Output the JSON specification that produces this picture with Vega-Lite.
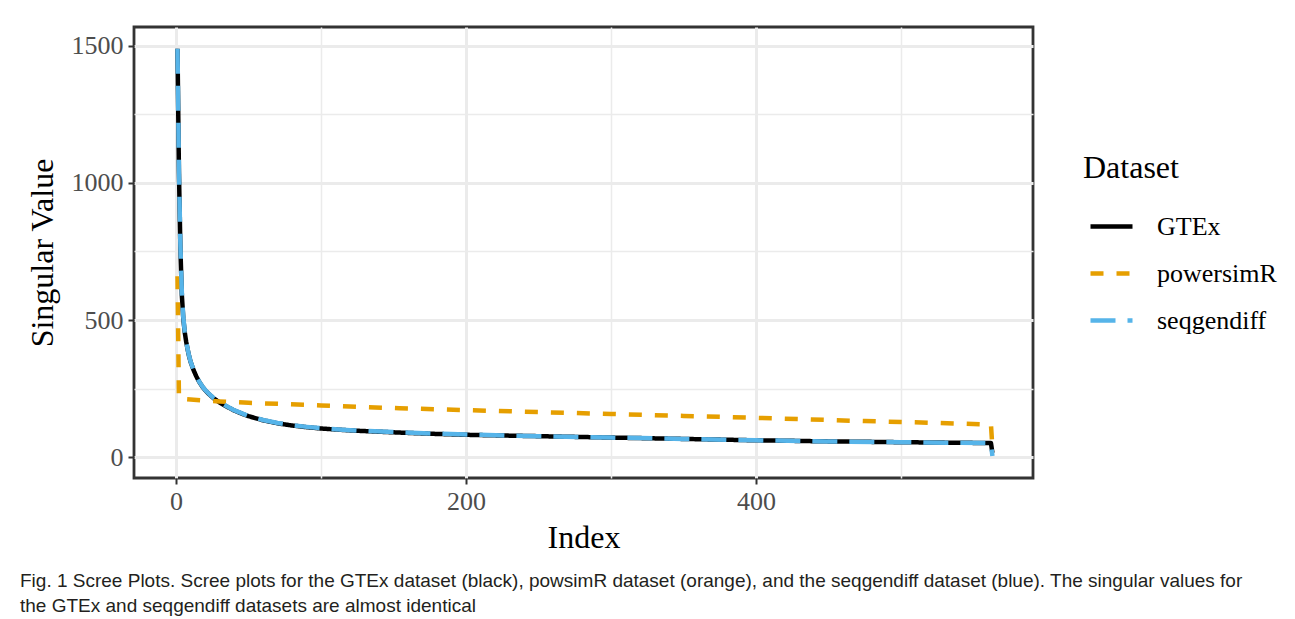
{
  "$schema": "https://vega.github.io/schema/vega-lite/v6.json",
  "autosize": {"type": "none"},
  "width": 899,
  "height": 451,
  "padding": {"left": 134, "top": 27, "right": 262, "bottom": 141},
  "background": "white",
  "title": {
    "text": ["Fig. 1 Scree Plots. Scree plots for the GTEx dataset (black), powsimR dataset (orange), and the seqgendiff dataset (blue). The singular values for", "the GTEx and seqgendiff datasets are almost identical"],
    "orient": "bottom",
    "anchor": "start",
    "frame": "bounds",
    "font": "Liberation Sans",
    "fontSize": 19,
    "fontWeight": "normal",
    "color": "#231f20",
    "lineHeight": 25,
    "offset": 19,
    "dx": -6
  },
  "data": {
    "values": [
      {"i": 1, "v": 1490, "s": "GTEx"},
      {"i": 2, "v": 1040, "s": "GTEx"},
      {"i": 3, "v": 760, "s": "GTEx"},
      {"i": 4, "v": 590, "s": "GTEx"},
      {"i": 5, "v": 505, "s": "GTEx"},
      {"i": 6, "v": 455, "s": "GTEx"},
      {"i": 7, "v": 420, "s": "GTEx"},
      {"i": 8, "v": 392, "s": "GTEx"},
      {"i": 9, "v": 368, "s": "GTEx"},
      {"i": 10, "v": 348, "s": "GTEx"},
      {"i": 12, "v": 318, "s": "GTEx"},
      {"i": 14, "v": 294, "s": "GTEx"},
      {"i": 16, "v": 274, "s": "GTEx"},
      {"i": 18, "v": 258, "s": "GTEx"},
      {"i": 20, "v": 244, "s": "GTEx"},
      {"i": 23, "v": 228, "s": "GTEx"},
      {"i": 26, "v": 214, "s": "GTEx"},
      {"i": 30, "v": 199, "s": "GTEx"},
      {"i": 35, "v": 184, "s": "GTEx"},
      {"i": 40, "v": 170, "s": "GTEx"},
      {"i": 45, "v": 159, "s": "GTEx"},
      {"i": 50, "v": 149, "s": "GTEx"},
      {"i": 60, "v": 134, "s": "GTEx"},
      {"i": 70, "v": 123, "s": "GTEx"},
      {"i": 80, "v": 115, "s": "GTEx"},
      {"i": 90, "v": 109, "s": "GTEx"},
      {"i": 100, "v": 104, "s": "GTEx"},
      {"i": 120, "v": 97, "s": "GTEx"},
      {"i": 150, "v": 90, "s": "GTEx"},
      {"i": 175, "v": 85, "s": "GTEx"},
      {"i": 200, "v": 81, "s": "GTEx"},
      {"i": 250, "v": 76, "s": "GTEx"},
      {"i": 300, "v": 71, "s": "GTEx"},
      {"i": 350, "v": 66, "s": "GTEx"},
      {"i": 400, "v": 61, "s": "GTEx"},
      {"i": 450, "v": 57, "s": "GTEx"},
      {"i": 500, "v": 54, "s": "GTEx"},
      {"i": 540, "v": 52, "s": "GTEx"},
      {"i": 562, "v": 51, "s": "GTEx"},
      {"i": 563, "v": 15, "s": "GTEx"},
      {"i": 1, "v": 660, "s": "powersimR"},
      {"i": 2, "v": 216, "s": "powersimR"},
      {"i": 5, "v": 212, "s": "powersimR"},
      {"i": 10, "v": 210, "s": "powersimR"},
      {"i": 20, "v": 206, "s": "powersimR"},
      {"i": 30, "v": 203, "s": "powersimR"},
      {"i": 50, "v": 198, "s": "powersimR"},
      {"i": 75, "v": 193, "s": "powersimR"},
      {"i": 100, "v": 188, "s": "powersimR"},
      {"i": 125, "v": 183, "s": "powersimR"},
      {"i": 154, "v": 178, "s": "powersimR"},
      {"i": 200, "v": 171, "s": "powersimR"},
      {"i": 250, "v": 164, "s": "powersimR"},
      {"i": 300, "v": 157, "s": "powersimR"},
      {"i": 350, "v": 150, "s": "powersimR"},
      {"i": 400, "v": 143, "s": "powersimR"},
      {"i": 432, "v": 138, "s": "powersimR"},
      {"i": 475, "v": 131, "s": "powersimR"},
      {"i": 500, "v": 128, "s": "powersimR"},
      {"i": 540, "v": 122, "s": "powersimR"},
      {"i": 562, "v": 118, "s": "powersimR"},
      {"i": 563, "v": 35, "s": "powersimR"},
      {"i": 1, "v": 1490, "s": "seqgendiff"},
      {"i": 2, "v": 1045, "s": "seqgendiff"},
      {"i": 3, "v": 770, "s": "seqgendiff"},
      {"i": 4, "v": 600, "s": "seqgendiff"},
      {"i": 5, "v": 510, "s": "seqgendiff"},
      {"i": 6, "v": 458, "s": "seqgendiff"},
      {"i": 7, "v": 422, "s": "seqgendiff"},
      {"i": 8, "v": 393, "s": "seqgendiff"},
      {"i": 9, "v": 369, "s": "seqgendiff"},
      {"i": 10, "v": 349, "s": "seqgendiff"},
      {"i": 12, "v": 319, "s": "seqgendiff"},
      {"i": 14, "v": 295, "s": "seqgendiff"},
      {"i": 16, "v": 275, "s": "seqgendiff"},
      {"i": 18, "v": 259, "s": "seqgendiff"},
      {"i": 20, "v": 245, "s": "seqgendiff"},
      {"i": 23, "v": 229, "s": "seqgendiff"},
      {"i": 26, "v": 215, "s": "seqgendiff"},
      {"i": 30, "v": 200, "s": "seqgendiff"},
      {"i": 35, "v": 185, "s": "seqgendiff"},
      {"i": 40, "v": 171, "s": "seqgendiff"},
      {"i": 45, "v": 160, "s": "seqgendiff"},
      {"i": 50, "v": 150, "s": "seqgendiff"},
      {"i": 60, "v": 135, "s": "seqgendiff"},
      {"i": 70, "v": 124, "s": "seqgendiff"},
      {"i": 80, "v": 116, "s": "seqgendiff"},
      {"i": 90, "v": 110, "s": "seqgendiff"},
      {"i": 100, "v": 105, "s": "seqgendiff"},
      {"i": 120, "v": 98, "s": "seqgendiff"},
      {"i": 150, "v": 91, "s": "seqgendiff"},
      {"i": 175, "v": 86, "s": "seqgendiff"},
      {"i": 200, "v": 82, "s": "seqgendiff"},
      {"i": 250, "v": 76, "s": "seqgendiff"},
      {"i": 300, "v": 71, "s": "seqgendiff"},
      {"i": 350, "v": 66, "s": "seqgendiff"},
      {"i": 400, "v": 61, "s": "seqgendiff"},
      {"i": 450, "v": 57, "s": "seqgendiff"},
      {"i": 500, "v": 54, "s": "seqgendiff"},
      {"i": 540, "v": 52, "s": "seqgendiff"},
      {"i": 562, "v": 51, "s": "seqgendiff"},
      {"i": 563, "v": 4, "s": "seqgendiff"}
    ]
  },
  "mark": {"type": "line", "strokeWidth": 4.5, "strokeCap": "butt", "strokeJoin": "round"},
  "encoding": {
    "x": {
      "field": "i",
      "type": "quantitative",
      "scale": {"domain": [-29, 591], "nice": false, "zero": false},
      "axis": {
        "values": [0, 100, 200, 300, 400, 500],
        "format": "d",
        "labelExpr": "datum.value % 200 === 0 ? datum.label : ''",
        "gridWidth": {"condition": {"test": "datum.value % 200 === 0", "value": 3}, "value": 1.5},
        "tickOpacity": {"condition": {"test": "datum.value % 200 === 0", "value": 1}, "value": 0},
        "title": "Index",
        "labelPadding": 4,
        "titlePadding": 8
      }
    },
    "y": {
      "field": "v",
      "type": "quantitative",
      "scale": {"domain": [-76.6, 1569.3], "nice": false, "zero": false},
      "axis": {
        "values": [0, 250, 500, 750, 1000, 1250, 1500],
        "format": "d",
        "labelExpr": "datum.value % 500 === 0 ? datum.label : ''",
        "gridWidth": {"condition": {"test": "datum.value % 500 === 0", "value": 3}, "value": 1.5},
        "tickOpacity": {"condition": {"test": "datum.value % 500 === 0", "value": 1}, "value": 0},
        "title": "Singular Value",
        "labelPadding": 5,
        "titlePadding": 12
      }
    },
    "color": {
      "field": "s",
      "type": "nominal",
      "title": "Dataset",
      "scale": {"domain": ["GTEx", "powersimR", "seqgendiff"], "range": ["#000000", "#E69F00", "#56B4E9"]}
    },
    "strokeDash": {
      "field": "s",
      "type": "nominal",
      "title": "Dataset",
      "scale": {"domain": ["GTEx", "powersimR", "seqgendiff"], "range": [[1, 0], [13, 13], [25, 12]]}
    }
  },
  "config": {
    "view": {"stroke": "#333333", "strokeWidth": 2.8},
    "axis": {
      "domain": false,
      "gridColor": "#EBEBEB",
      "tickColor": "#333333",
      "tickWidth": 2,
      "tickSize": 6,
      "labelFont": "Liberation Serif",
      "labelFontSize": 26,
      "labelColor": "#4D4D4D",
      "titleFont": "Liberation Serif",
      "titleFontSize": 32,
      "titleFontWeight": "normal",
      "titleColor": "#000000"
    },
    "legend": {
      "orient": "none",
      "legendX": 949,
      "legendY": 126,
      "titleFont": "Liberation Serif",
      "titleFontSize": 32,
      "titleFontWeight": "normal",
      "titleColor": "#000000",
      "titlePadding": 18,
      "labelFont": "Liberation Serif",
      "labelFontSize": 26,
      "labelColor": "#000000",
      "labelOffset": 22,
      "symbolType": "stroke",
      "symbolSize": 1764,
      "symbolStrokeWidth": 4.5,
      "symbolOffset": 5,
      "rowPadding": 10,
      "padding": 0
    }
  }
}
